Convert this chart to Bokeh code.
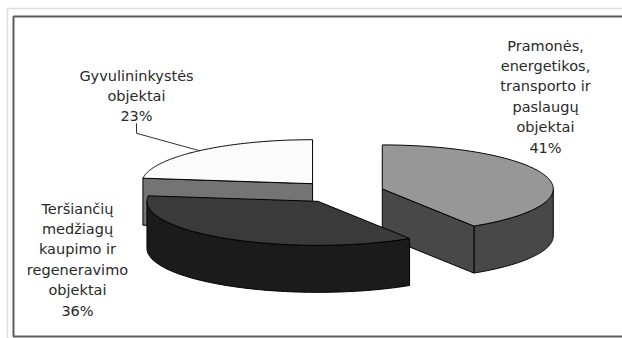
import numpy as np
from bokeh.plotting import figure
from bokeh.models import Range1d
from bokeh.embed import file_html
from bokeh.resources import INLINE
from bokeh.core.properties import value

# ---------------- data ----------------
categories = [
    "Pramonės, energetikos, transporto ir paslaugų objektai",
    "Teršiančių medžiagų kaupimo ir regeneravimo objektai",
    "Gyvulininkystės objektai",
]
label_lines = [
    ["Pramonės,", "energetikos,", "transporto ir", "paslaugų", "objektai"],
    ["Teršiančių", "medžiagų", "kaupimo ir", "regeneravimo", "objektai"],
    ["Gyvulininkystės", "objektai"],
]
shares = [41, 36, 23]
top_colors = ["#979797", "#3a3a3a", "#fbfbfb"]
side_colors = ["#484848", "#1b1b1b", "#747474"]

# ---------------- layout ----------------
W, H = 622, 338
CX, CY = 340.5, 191.5      # pie centre (pixels)
RX, RY = 171.0, 44.0       # ellipse radii
DEPTH = 47.0               # pie thickness
EXPLODE = 43.0             # slice explosion distance
label_anchor = [(545, 45), (77, 208), (136, 75)]   # centre x, first baseline
LINE_H = 20.4
FONT = "DejaVu Sans"
FONT_SIZE = "14.5px"
TEXT_COLOR = "#2a2a2a"

p = figure(width=W, height=H, x_range=Range1d(0, W), y_range=Range1d(H, 0),
           output_backend="svg", toolbar_location=None, min_border=0)
p.axis.visible = False
p.grid.visible = False
p.outline_line_color = None
p.background_fill_color = "white"
p.border_fill_color = "white"

# frame
p.line([W, 7, 7], [8, 8, H], line_color="#dedede", line_width=1.5)
p.line([W, 13, 13, W], [16, 16, 336, 336], line_color="#5c5c5c", line_width=2)

total = float(sum(shares))
cum = np.concatenate([[0], np.cumsum(shares)]) / total
ratio = RY / RX


def pt(cx, cy, t_deg, z=0.0):
    t = np.radians(t_deg)
    return cx + RX * np.cos(t), cy - RY * np.sin(t) + z


slices = []
for i, v in enumerate(shares):
    hi = 90 - 360 * cum[i]
    lo = 90 - 360 * cum[i + 1]
    mid = (lo + hi) / 2
    cx = CX + EXPLODE * np.cos(np.radians(mid))
    cy = CY - EXPLODE * ratio * np.sin(np.radians(mid))
    slices.append(dict(i=i, lo=lo, hi=hi, mid=mid, cx=cx, cy=cy))

# back to front
order = sorted(slices, key=lambda s: s["cy"])

for s in order:
    i, lo, hi, cx, cy = s["i"], s["lo"], s["hi"], s["cx"], s["cy"]
    side_xs, side_ys = [], []
    # curved outer side (front half only)
    k0 = int(np.floor((lo - 180) / 360)) - 1
    for k in range(k0, k0 + 4):
        a = max(lo, 180 + 360 * k)
        b = min(hi, 360 + 360 * k)
        if b - a > 0.01:
            ts = np.linspace(a, b, 80)
            tx, ty = pt(cx, cy, ts)
            bx, by = pt(cx, cy, ts[::-1], DEPTH)
            side_xs.append(list(np.concatenate([tx, bx])))
            side_ys.append(list(np.concatenate([ty, by])))
    # radial faces
    for ang, nrm in ((lo, lo - 90), (hi, hi + 90)):
        if np.sin(np.radians(nrm)) < -1e-6:
            ex, ey = pt(cx, cy, ang)
            side_xs.append([cx, ex, ex, cx])
            side_ys.append([cy, ey, ey + DEPTH, cy + DEPTH])
    if side_xs:
        p.patches(side_xs, side_ys, fill_color=side_colors[i], line_color="black",
                  line_width=1, line_join="round")
    # top face
    ts = np.linspace(lo, hi, 160)
    tx, ty = pt(cx, cy, ts)
    p.patch(list(np.concatenate([[cx], tx])), list(np.concatenate([[cy], ty])),
            fill_color=top_colors[i], line_color="black", line_width=1, line_join="round")

# labels
for i, lines in enumerate(label_lines):
    ax, ay = label_anchor[i]
    texts = lines + [f"{shares[i]}%"]
    ys = [ay + j * LINE_H for j in range(len(texts))]
    p.text([ax] * len(texts), ys, text=texts, text_align="center",
           text_baseline="alphabetic", text_font=value(FONT),
           text_font_size=FONT_SIZE, text_color=TEXT_COLOR)

# leader line for the white slice label
s = slices[2]
lx, ly = pt(s["cx"], s["cy"], s["mid"])
ax, ay = label_anchor[2]
y_under = ay + 2 * LINE_H + 7
p.line([ax, ax, lx], [y_under, y_under + 10, ly], line_color="#333333", line_width=1)

open("out.html", "w").write(file_html(p, INLINE))
